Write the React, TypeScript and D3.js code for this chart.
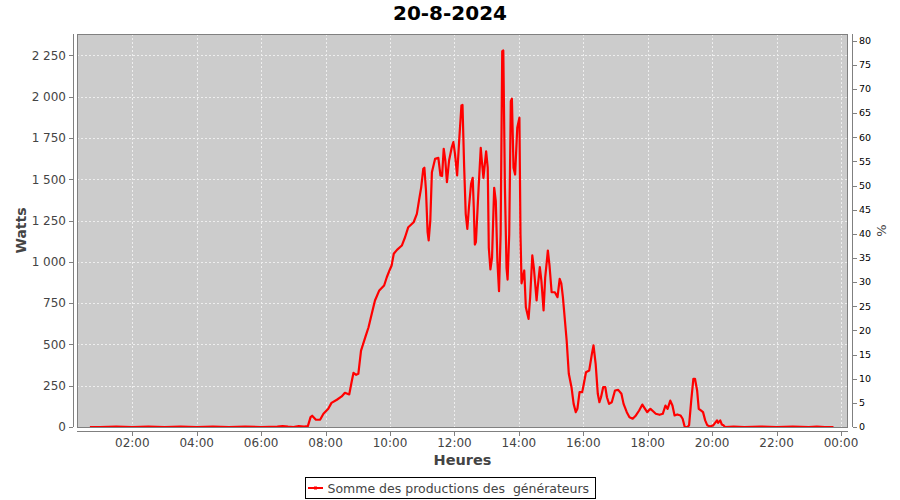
import React from "react";
import * as d3 from "d3";

const title = "20-8-2024";
const seriesName = "Somme des productions des  générateurs";

const times = [
  "00:41","01:00","01:30","02:00","02:30","03:00","03:30","04:00","04:30","05:00","05:30","06:00","06:30","06:40","06:50","07:00","07:10","07:20","07:27",
  "07:32","07:35","07:42","07:50","07:56","08:05","08:11","08:21","08:30","08:36","08:44","08:49","08:52","08:57","09:01","09:06","09:14","09:20","09:26","09:32",
  "09:40","09:49","09:54","09:59","10:03","10:07","10:13","10:22","10:28","10:34","10:44","10:50","10:54","10:58","11:02","11:04","11:07","11:10","11:12","11:15",
  "11:18","11:24","11:30","11:34","11:37","11:40","11:43","11:46","11:50","11:55","11:58","12:01","12:05","12:09","12:13","12:15","12:18","12:21","12:24","12:27",
  "12:31","12:34","12:36","12:38","12:40","12:45","12:49","12:51","12:54","12:59","13:02","13:04","13:07","13:10","13:14","13:17","13:20","13:23","13:26","13:29",
  "13:31","13:34","13:37","13:39","13:42","13:45","13:47","13:50","13:53","13:57","14:01","14:03","14:05","14:07","14:10","14:13","14:18","14:21","14:25","14:28",
  "14:33","14:35","14:39","14:42","14:46","14:49","14:54","14:57","15:01","15:07","15:12","15:16","15:19","15:22","15:29","15:33","15:38","15:42","15:46","15:49",
  "15:53","15:58","16:01","16:05","16:11","16:16","16:19","16:23","16:27","16:30","16:33","16:37","16:41","16:44","16:48","16:53","16:59","17:05","17:11","17:15",
  "17:21","17:26","17:32","17:38","17:44","17:50","17:55","17:59","18:05","18:10","18:15","18:22","18:28","18:33","18:37","18:42","18:46","18:50","18:55","19:01",
  "19:05","19:09","19:14","19:17","19:21","19:25","19:28","19:32","19:35","19:39","19:43","19:47","19:51","19:56","20:02","20:09","20:11","20:15","20:18","20:21",
  "20:24","20:40","21:00","21:30","22:00","22:30","23:00","23:15","23:30","23:46"
];

const watts = [
  0,0,2,0,3,0,2,0,2,0,2,0,3,5,2,0,5,3,5,
  60,68,44,45,80,110,146,165,185,207,197,282,328,316,322,463,544,604,686,766,
  827,857,907,948,978,1049,1073,1099,1149,1210,1240,1291,1372,1450,1564,1570,1432,1180,1130,1250,
  1543,1624,1630,1523,1520,1685,1614,1483,1614,1694,1725,1654,1523,1745,1947,1950,1584,1291,1200,1331,
  1473,1509,1331,1105,1120,1449,1691,1614,1509,1670,1570,1085,954,1025,1449,1368,1004,822,1166,2276,
  2280,1449,964,893,1166,1973,1988,1570,1529,1812,1873,1166,870,900,948,725,655,786,1039,960,
  766,843,968,883,706,904,1069,980,816,816,786,897,870,786,524,322,241,140,90,110,
  211,211,262,332,342,443,494,383,201,150,180,241,241,180,140,150,221,225,201,140,
  90,59,50,70,100,136,110,90,110,95,80,74,80,130,110,160,130,70,76,70,
  50,0,0,10,160,292,292,221,110,100,90,40,10,3,10,40,25,40,15,10,
  0,2,0,3,0,2,0,3,0,0
];

const leftTicks = [0, 250, 500, 750, 1000, 1250, 1500, 1750, 2000, 2250];
const rightTicks = [0, 5, 10, 15, 20, 25, 30, 35, 40, 45, 50, 55, 60, 65, 70, 75, 80];
const xTickHours = [2, 4, 6, 8, 10, 12, 14, 16, 18, 20, 22, 24];

const W = 900, H = 500;
const plot = { left: 77, right: 848, top: 34, bottom: 427 };

function toDate(t: string) {
  const [h, m] = t.split(":").map(Number);
  return new Date(2024, 7, 20, h, m);
}

export default function App() {
  const x = d3.scaleTime()
    .domain([new Date(2024, 7, 20, 0, 17), new Date(2024, 7, 21, 0, 13.6)])
    .range([plot.left, plot.right]);
  const y = d3.scaleLinear().domain([0, 2380]).range([plot.bottom, plot.top]);
  const yr = d3.scaleLinear().domain([0, 81.4]).range([plot.bottom, plot.top]);
  const fmtTime = d3.timeFormat("%H:%M");
  const fmtW = (v: number) => {
    const s = d3.format("d")(v);
    return s.length > 3 ? s.slice(0, s.length - 3) + "\u00a0" + s.slice(-3) : s;
  };

  const pts: [Date, number][] = times.map((t, i) => [toDate(t), watts[i]]);
  const line = d3.line<[Date, number]>().x(d => x(d[0])).y(d => y(d[1]));
  const xTicks = xTickHours.map(h => new Date(2024, 7, 20, h, 0));

  const axisColor = "#808080";
  const labelColor = "#444444";
  const font = "'DejaVu Sans', sans-serif";

  return (
    <svg width={W} height={H} style={{ display: "block", position: "absolute", left: 0, top: 0 }} fontFamily={font}>
      <rect x={0} y={0} width={W} height={H} fill="#ffffff" />
      <text x={450} y={20} textAnchor="middle" fontSize={20} fontWeight="bold" fill="#000">{title}</text>

      <rect x={plot.left} y={plot.top} width={plot.right - plot.left} height={plot.bottom - plot.top} fill="#cccccc" />
      {/* grid */}
      {leftTicks.filter(v => v > 0).map(v => (
        <line key={"gy" + v} x1={plot.left} x2={plot.right} y1={Math.round(y(v)) + 0.5} y2={Math.round(y(v)) + 0.5}
          stroke="#eeeeee" strokeWidth={1} strokeDasharray="2,2" />
      ))}
      {xTicks.map((d, i) => (
        <line key={"gx" + i} y1={plot.top} y2={plot.bottom} x1={Math.round(x(d)) + 0.5} x2={Math.round(x(d)) + 0.5}
          stroke="#eeeeee" strokeWidth={1} strokeDasharray="2,2" />
      ))}
      <defs>
        <clipPath id="clipPlot">
          <rect x={plot.left} y={plot.top - 2} width={plot.right - plot.left} height={plot.bottom - plot.top + 2} />
        </clipPath>
      </defs>
      <path d={line(pts) || ""} fill="none" stroke="#ff0000" strokeWidth={2.2} strokeLinejoin="round" clipPath="url(#clipPlot)" />
      <rect x={plot.left + 0.5} y={plot.top + 0.5} width={plot.right - plot.left - 1} height={plot.bottom - plot.top} fill="none" stroke={axisColor} strokeWidth={1} />

      {/* left axis */}
      <line x1={73.5} x2={73.5} y1={plot.top} y2={plot.bottom} stroke={axisColor} />
      {leftTicks.map(v => (
        <g key={"ly" + v}>
          <line x1={69} x2={73} y1={Math.round(y(v)) + 0.5} y2={Math.round(y(v)) + 0.5} stroke={axisColor} />
          <text x={66} y={y(v) + 4.3} textAnchor="end" fontSize={12} fill={labelColor}>{fmtW(v)}</text>
        </g>
      ))}
      <text transform={`translate(26,${(plot.top + plot.bottom) / 2}) rotate(-90)`} textAnchor="middle" fontSize={14} fontWeight="bold" fill={labelColor}>Watts</text>

      {/* right axis */}
      <line x1={852.5} x2={852.5} y1={plot.top} y2={plot.bottom} stroke={axisColor} />
      {rightTicks.map(v => (
        <g key={"ry" + v}>
          <line x1={853} x2={857} y1={Math.round(yr(v)) + 0.5} y2={Math.round(yr(v)) + 0.5} stroke={axisColor} />
          <text x={859} y={yr(v) + 3.3} textAnchor="start" fontSize={9.5} fill="#000">{v}</text>
        </g>
      ))}
      <text transform={`translate(886,${(plot.top + plot.bottom) / 2}) rotate(-90)`} textAnchor="middle" fontSize={13} fill={labelColor}>%</text>

      {/* bottom axis */}
      <line x1={plot.left} x2={plot.right} y1={431.5} y2={431.5} stroke={axisColor} />
      {xTicks.map((d, i) => (
        <g key={"xt" + i}>
          <line x1={Math.round(x(d)) + 0.5} x2={Math.round(x(d)) + 0.5} y1={432} y2={436} stroke={axisColor} />
          <text x={x(d)} y={446.5} textAnchor="middle" fontSize={12} fill={labelColor}>{fmtTime(d)}</text>
        </g>
      ))}
      <text x={(plot.left + plot.right) / 2} y={465} textAnchor="middle" fontSize={14.5} fontWeight="bold" fill={labelColor}>Heures</text>

      {/* legend */}
      <rect x={305.5} y={477.5} width={290} height={21} fill="#fff" stroke="#000" strokeWidth={1} />
      <line x1={308} x2={323} y1={488} y2={488} stroke="#ff0000" strokeWidth={2} />
      <rect x={314} y={486.5} width={3} height={3} fill="#ff0000" />
      <text x={327.5} y={492.5} fontSize={12.5} fill={labelColor} style={{ whiteSpace: "pre" }}>{seriesName}</text>
    </svg>
  );
}
